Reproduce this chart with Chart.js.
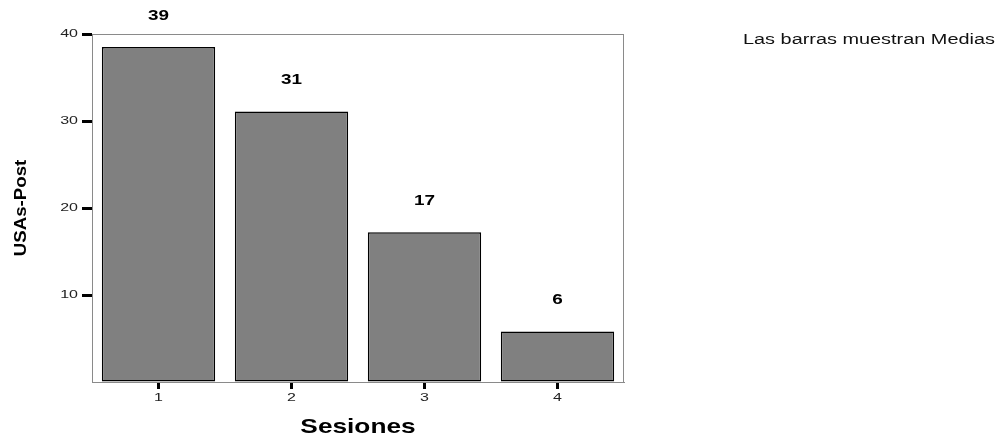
<!DOCTYPE html>
<html>
<head>
<meta charset="utf-8">
<script src="https://cdn.jsdelivr.net/npm/chart.js@4"></script>
<style>
  body { margin: 0; background: #fff; }
  canvas { display: block; }
</style>
</head>
<body>
<canvas id="chart_sesiones" width="1008" height="438"></canvas>
<script>
const ctx_sesiones = document.getElementById("chart_sesiones");

// data
let sesiones = ["1", "2", "3", "4"];
let medias = [38.5, 31.1, 17.2, 5.8];
let yTicks = [10, 20, 30, 40];

let fontName = "'Liberation Sans', Arial, sans-serif";

// the original text looks stretched sideways, so draw it with a scale
function wideText(c, text, x, y, sx, align) {
    c.save();
    c.translate(x, y);
    c.scale(sx, 1);
    c.textAlign = align;
    c.fillText(text, 0, 0);
    c.restore();
}

const textPlugin = {
    id: "textPlugin",
    afterDraw(chart) {
        const c = chart.ctx;
        const area = chart.chartArea;
        const xs = chart.scales.x;
        const ys = chart.scales.y;

        // frame around plot
        c.save();
        c.strokeStyle = "#8a8a8a";
        c.lineWidth = 1;
        c.strokeRect(area.left + 0.5, area.top + 0.5, area.right - area.left - 1, area.bottom - area.top);

        c.fillStyle = "#222";
        c.textBaseline = "middle";

        // y tick labels
        c.font = "10px " + fontName;
        yTicks.forEach(v => {
            wideText(c, String(v), area.left - 14, ys.getPixelForValue(v), 1.6, "right");
        });

        // x tick labels
        sesiones.forEach((s, i) => {
            wideText(c, s, xs.getPixelForValue(i), 398, 1.6, "center");
        });

        // value labels over bars
        c.fillStyle = "#000";
        c.font = "bold 14px " + fontName;
        chart.getDatasetMeta(0).data.forEach((bar, i) => {
            wideText(c, String(Math.round(medias[i])), bar.x, bar.y - 31, 1.35, "center");
        });

        // axis titles
        c.font = "bold 21px " + fontName;
        wideText(c, "Sesiones", (area.left + area.right) / 2, 427.5, 1.25, "center");

        c.save();
        c.translate(21, (area.top + area.bottom) / 2);
        c.rotate(-Math.PI / 2);
        c.font = "bold 17px " + fontName;
        wideText(c, "USAs-Post", 0, 0, 1.1, "center");
        c.restore();

        // note on the right
        c.fillStyle = "#111";
        c.font = "14px " + fontName;
        wideText(c, "Las barras muestran Medias", 743, 40, 1.42, "left");

        c.restore();
    }
};

new Chart(ctx_sesiones, {
    type: "bar",
    data: {
        labels: sesiones,
        datasets: [{
            data: medias,
            backgroundColor: "#808080",
            borderColor: "#000",
            borderWidth: 1.5,
            borderSkipped: false,
            barPercentage: 0.852,
            categoryPercentage: 1
        }]
    },
    options: {
        responsive: false,
        animation: false,
        devicePixelRatio: 1,
        layout: {
            padding: { top: 34, right: 384, left: 0, bottom: 0 }
        },
        plugins: {
            legend: { display: false },
            tooltip: { enabled: false }
        },
        scales: {
            x: {
                ticks: { display: false },
                grid: {
                    display: true,
                    drawOnChartArea: false,
                    offset: false,
                    tickLength: 7,
                    tickWidth: 3,
                    tickColor: "#000"
                },
                border: { color: "#8a8a8a", width: 1 },
                afterFit: (scale) => { scale.height = 56; }
            },
            y: {
                min: 0,
                max: 40,
                ticks: { display: false, stepSize: 10 },
                grid: {
                    display: true,
                    drawOnChartArea: false,
                    tickLength: 10,
                    tickWidth: 3,
                    tickColor: (c) => c.tick && c.tick.value === 0 ? "rgba(0,0,0,0)" : "#000"
                },
                border: { color: "#8a8a8a", width: 1 },
                afterFit: (scale) => { scale.width = 92; }
            }
        }
    },
    plugins: [textPlugin]
});
</script>
</body>
</html>
